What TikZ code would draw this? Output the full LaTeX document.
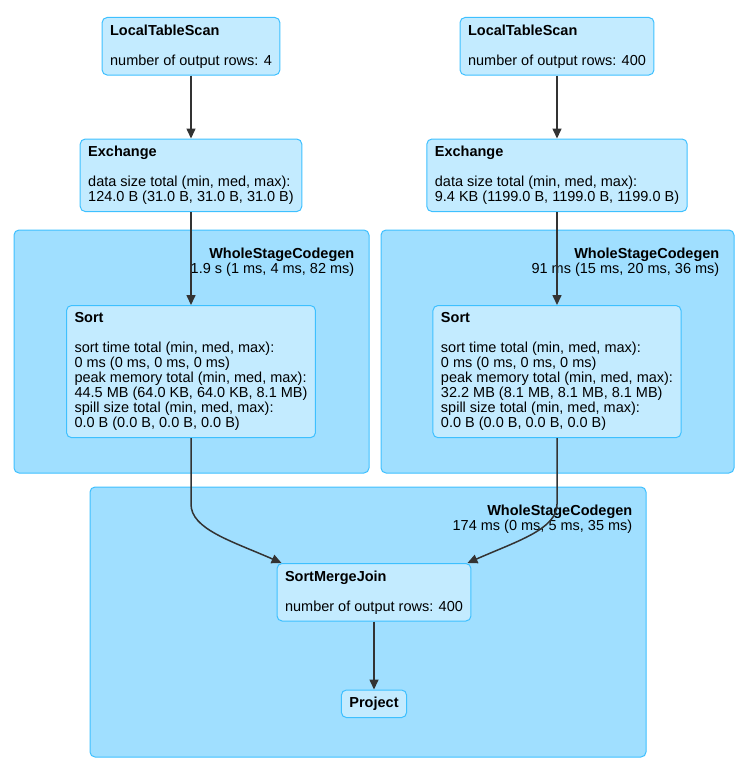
\documentclass[tikz,border=0pt]{standalone}
\usepackage{fontspec}
\setmainfont{Liberation Sans}
\usetikzlibrary{positioning, fit, arrows.meta, calc}
\definecolor{nodefill}{HTML}{C3EBFF}
\definecolor{nodeline}{HTML}{3EC0FF}
\definecolor{clusterfill}{HTML}{A0DFFF}
\definecolor{edgecolor}{HTML}{333333}
\newcommand{\planfont}{\fontsize{14.5}{15}\selectfont}
\tikzstyle{plannode} = [rectangle, rounded corners=5pt, draw=nodeline, fill=nodefill, line width=1pt, align=left, inner xsep=8pt, inner ysep=7pt, font=\planfont]
\tikzstyle{cluster} = [rectangle, rounded corners=5pt, draw=nodeline, fill=clusterfill, line width=1pt, inner sep=0pt]
\tikzstyle{clusterlabel} = [align=right, inner sep=0pt, anchor=north east, font=\planfont]
\tikzstyle{edge} = [line width=1.5pt, draw=edgecolor, -{Triangle[length=10pt,width=9pt]}]

\begin{document}
\begin{tikzpicture}[x=1pt, y=-1pt]
        \useasboundingbox (0,0) rectangle (750,773);

        % codegen stages
        \node[cluster, fit={(14,230) (369,473)}] (wscgA) {};
        \node[clusterlabel] at ($(wscgA.north east)+(-15,18)$) (wscgAlabel) {\textbf{WholeStageCodegen}\\1.9 s (1 ms, 4 ms, 82 ms)};
        \node[cluster, fit={(381,230) (734,473)}] (wscgB) {};
        \node[clusterlabel] at ($(wscgB.north east)+(-15,18)$) (wscgBlabel) {\textbf{WholeStageCodegen}\\91 ms (15 ms, 20 ms, 36 ms)};
        \node[cluster, fit={(90,487) (646,757)}] (wscgC) {};
        \node[clusterlabel] at ($(wscgC.north east)+(-14,18)$) (wscgClabel) {\textbf{WholeStageCodegen}\\174 ms (0 ms, 5 ms, 35 ms)};

        % left branch
        \node[plannode, anchor=north] at (191,17) (ltsA) {\textbf{LocalTableScan}\\[15pt]number of output rows: 4};
        \node[plannode, below=63pt of ltsA] (exA) {\textbf{Exchange}\\[15pt]data size total (min, med, max):\\124.0 B (31.0 B, 31.0 B, 31.0 B)};
        \node[plannode, below=93pt of exA] (sortA) {\textbf{Sort}\\[15pt]sort time total (min, med, max):\\0 ms (0 ms, 0 ms, 0 ms)\\peak memory total (min, med, max):\\44.5 MB (64.0 KB, 64.0 KB, 8.1 MB)\\spill size total (min, med, max):\\0.0 B (0.0 B, 0.0 B, 0.0 B)};
        \draw [edge] (ltsA) -- (exA);
        \draw [edge] (exA) -- (sortA);

        % right branch
        \node[plannode, anchor=north] at (557,17) (ltsB) {\textbf{LocalTableScan}\\[15pt]number of output rows: 400};
        \node[plannode, below=63pt of ltsB] (exB) {\textbf{Exchange}\\[15pt]data size total (min, med, max):\\9.4 KB (1199.0 B, 1199.0 B, 1199.0 B)};
        \node[plannode, below=93pt of exB] (sortB) {\textbf{Sort}\\[15pt]sort time total (min, med, max):\\0 ms (0 ms, 0 ms, 0 ms)\\peak memory total (min, med, max):\\32.2 MB (8.1 MB, 8.1 MB, 8.1 MB)\\spill size total (min, med, max):\\0.0 B (0.0 B, 0.0 B, 0.0 B)};
        \draw [edge] (ltsB) -- (exB);
        \draw [edge] (exB) -- (sortB);

        % join
        \node[plannode, anchor=north] at (374,563) (smj) {\textbf{SortMergeJoin}\\[15pt]number of output rows: 400};
        \node[plannode, below=68pt of smj] (project) {\textbf{Project}};
        \coordinate (joinA) at ($(smj.north west)+(5,0)$);
        \coordinate (joinB) at ($(smj.north east)+(-4,0)$);
        \draw [edge] (sortA.south) -- ++(0,66) .. controls +(0,25) and +(-50,-22) .. (joinA);
        \draw [edge] (sortB.south) -- ++(0,66) .. controls +(0,25) and +(50,-22) .. (joinB);
        \draw [edge] (smj) -- (project);
\end{tikzpicture}
\end{document}
